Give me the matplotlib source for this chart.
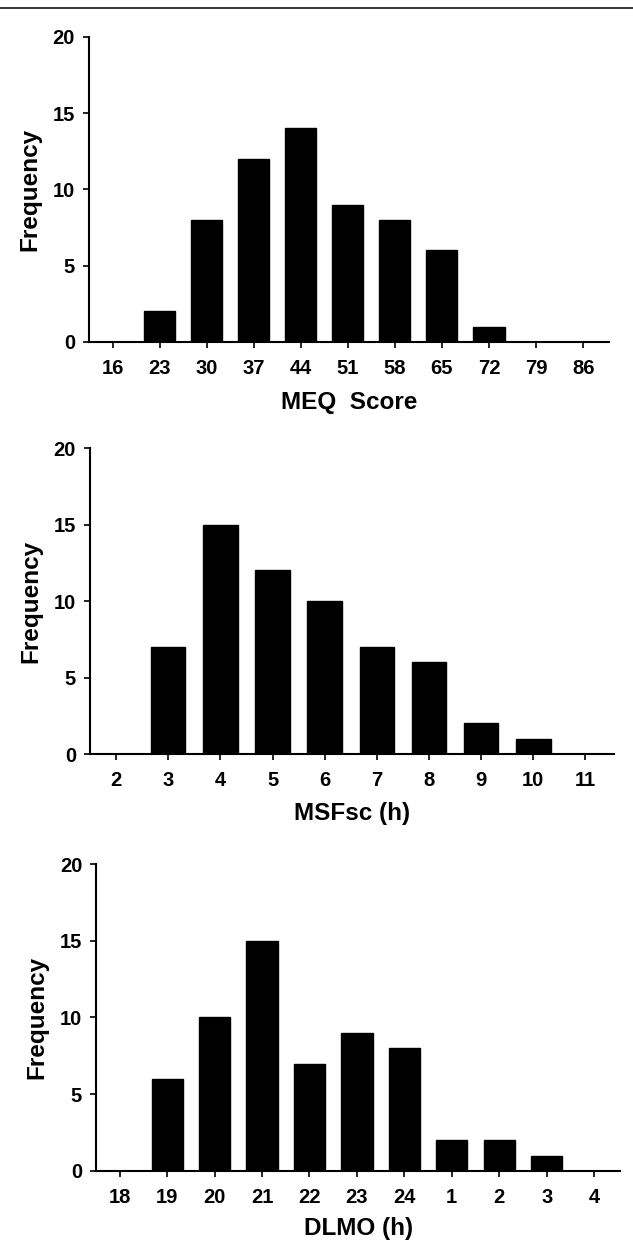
import matplotlib
matplotlib.use("Agg")
import matplotlib.pyplot as plt
from matplotlib.lines import Line2D

plt.rcParams['font.family'] = ['Liberation Sans', 'DejaVu Sans']
plt.rcParams['font.weight'] = 'bold'

# Histogram data
meq_bins = ["16", "23", "30", "37", "44", "51", "58", "65", "72", "79", "86"]
meq_freq = [0, 2, 8, 12, 14, 9, 8, 6, 1, 0, 0]

msf_bins = ["2", "3", "4", "5", "6", "7", "8", "9", "10", "11"]
msf_freq = [0, 7, 15, 12, 10, 7, 6, 2, 1, 0]

dlmo_bins = ["18", "19", "20", "21", "22", "23", "24", "1", "2", "3", "4"]
dlmo_freq = [0, 6, 10, 15, 7, 9, 8, 2, 2, 1, 0]

panels = [
    (meq_bins, meq_freq, "MEQ  Score", [0.1406, 0.7273, 0.8215, 0.2432], -0.197),
    (msf_bins, msf_freq, "MSFsc (h)", [0.1422, 0.3987, 0.828, 0.244], -0.193),
    (dlmo_bins, dlmo_freq, "DLMO (h)", [0.1517, 0.0662, 0.828, 0.2448], -0.186),
]

fig = plt.figure(figsize=(6.33, 12.54), dpi=100)

# thin rule across the top of the page
fig.add_artist(Line2D([0, 1], [1 - 8 / 1254, 1 - 8 / 1254], color='black',
                      linewidth=1.1, transform=fig.transFigure))

for bins, freq, xlabel, rect, label_y in panels:
    ax = fig.add_axes(rect)
    x = list(range(len(bins)))
    ax.bar(x, freq, width=0.66, color='black', edgecolor='black')
    ax.set_xlim(-0.5, len(bins) - 1 + 0.55)
    ax.set_ylim(0, 20)
    ax.set_yticks([0, 5, 10, 15, 20])
    ax.set_xticks(x)
    ax.set_xticklabels(bins)
    ax.spines['top'].set_visible(False)
    ax.spines['right'].set_visible(False)
    for side in ['left', 'bottom']:
        ax.spines[side].set_linewidth(1.5)
    ax.tick_params(axis='both', direction='out', length=4, width=1.2,
                   labelsize=14.5)
    ax.tick_params(axis='x', pad=8)
    ax.tick_params(axis='y', pad=6)
    ax.set_xlabel(xlabel, fontsize=17.5, fontweight='bold', va='center')
    ax.xaxis.set_label_coords(0.5, label_y)
    ax.set_ylabel("Frequency", fontsize=17.5, fontweight='bold', va='center')
    ax.yaxis.set_label_coords(-0.113, 0.5)

fig.savefig("out.png", dpi=100)
